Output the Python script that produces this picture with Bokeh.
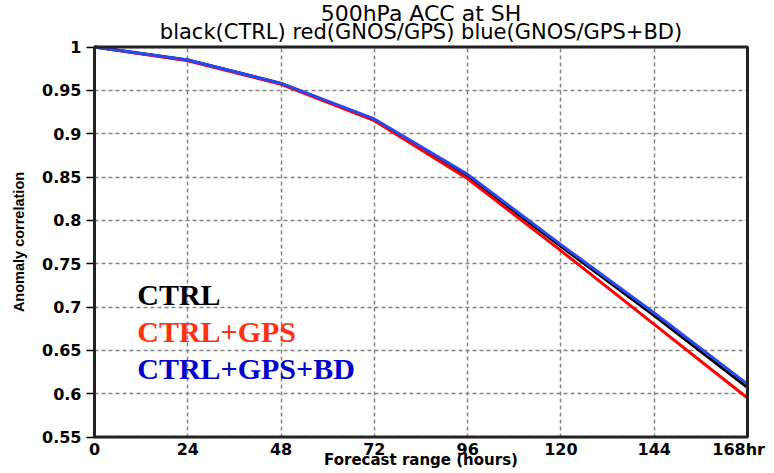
import math
from bokeh.plotting import figure
from bokeh.models import Label, FixedTicker, Range1d, BoxAnnotation
from bokeh.embed import file_html
from bokeh.resources import INLINE

# ---------------- data ----------------
hours = [0, 24, 48, 72, 96, 120, 144, 168]
ctrl = [1.0, 0.985, 0.958, 0.916, 0.851, 0.770, 0.690, 0.607]
gps = [1.0, 0.984, 0.957, 0.915, 0.848, 0.765, 0.680, 0.595]
gps_bd = [1.0, 0.985, 0.958, 0.917, 0.853, 0.772, 0.693, 0.611]

x_ticks = [0, 24, 48, 72, 96, 120, 144, 168]
x_tick_labels = ["0", "24", "48", "72", "96", "120", "144", "168hr\u00a0"]
y_ticks = [0.55, 0.6, 0.65, 0.7, 0.75, 0.8, 0.85, 0.9, 0.95, 1.0]
y_tick_labels = ["0.55", "0.6", "0.65", "0.7", "0.75", "0.8", "0.85", "0.9", "0.95", "1"]

title_text = "500hPa ACC at SH"
subtitle_text = "black(CTRL) red(GNOS/GPS) blue(GNOS/GPS+BD)"
x_label = "Forecast range (hours)"
y_label = "Anomaly correlation"

series_names = ["CTRL", "CTRL+GPS", "CTRL+GPS+BD"]
line_colors = ["#000000", "#ff0000", "#2a48f0"]
legend_colors = ["#000000", "#ff3311", "#0000cc"]

# ---------------- layout (pixels) ----------------
W, H = 770, 469
box_left, box_right = 94, 747      # pixel position of the plot box
box_top, box_bottom = 46.5, 436.5
x0, x1 = x_ticks[0], x_ticks[-1]
y0, y1 = y_ticks[0], y_ticks[-1]
ppx = (box_right - box_left) / (x1 - x0)
ppy = (box_bottom - box_top) / (y1 - y0)
x_lo = x0 - box_left / ppx
x_hi = x1 + (W - box_right) / ppx
y_hi = y1 + box_top / ppy
y_lo = y0 - (H - box_bottom) / ppy

p = figure(width=W, height=H, output_backend="svg", toolbar_location=None,
           x_range=Range1d(x_lo, x_hi), y_range=Range1d(y_lo, y_hi),
           min_border=0, title=None)
p.background_fill_color = "white"
p.border_fill_color = "white"
p.outline_line_color = None

# grid
for g in (p.xgrid, p.ygrid):
    g.grid_line_color = "#858585"
    g.grid_line_dash = "4 3"
    g.grid_line_width = 1.5
p.xgrid.ticker = FixedTicker(ticks=x_ticks)
p.ygrid.ticker = FixedTicker(ticks=y_ticks)
p.xgrid.cross_bounds = (y0, y1)
p.ygrid.cross_bounds = (x0, x1)

# axes pinned to the plot box
xa = p.xaxis[0]
xa.fixed_location = y0
xa.bounds = (x0, x1)
xa.ticker = FixedTicker(ticks=x_ticks)
xa.major_label_overrides = dict(zip(x_ticks, x_tick_labels))
xa.axis_line_color = None
xa.major_tick_out = 0
xa.major_tick_in = 0
xa.minor_tick_line_color = None
xa.major_label_text_font = "DejaVu Sans"
xa.major_label_text_font_style = "bold"
xa.major_label_text_font_size = "16px"
xa.major_label_text_color = "black"
xa.major_label_standoff = 3

ya = p.yaxis[0]
ya.fixed_location = x0
ya.bounds = (y0, y1)
ya.ticker = FixedTicker(ticks=y_ticks)
ya.major_label_overrides = dict(zip(y_ticks, y_tick_labels))
ya.axis_line_color = None
ya.major_tick_out = 8
ya.major_tick_in = 0
ya.major_tick_line_width = 1.5
ya.major_tick_line_color = "black"
ya.minor_tick_line_color = None
ya.major_label_text_font = "DejaVu Sans"
ya.major_label_text_font_style = "bold"
ya.major_label_text_font_size = "16px"
ya.major_label_text_color = "black"
ya.major_label_standoff = 5

# lines
for vals, col in zip([ctrl, gps, gps_bd], line_colors):
    p.line(hours, vals, line_color=col, line_width=3)

# plot box
p.add_layout(BoxAnnotation(left=x0, right=x1, bottom=y0, top=y1,
                           fill_alpha=0, line_color="#222222", line_alpha=1,
                           line_width=3))

def txt(text, x, y, size, font="DejaVu Sans", style="normal", color="black",
        dx=0, dy=0, align="center", baseline="alphabetic", angle=0):
    # alphabetic labels sit about 0.4em low in this renderer; compensate
    corr = 0.4 * size if baseline == "alphabetic" else 0
    p.add_layout(Label(x=x, y=y, x_offset=dx, y_offset=dy + corr, text=text,
                       text_font=font, text_font_style=style,
                       text_font_size=f"{size}px", text_color=color,
                       text_align=align, text_baseline=baseline, angle=angle))

xc = (x0 + x1) / 2
# titles (baselines at 22 px and 40 px from the top)
txt(subtitle_text, xc, y_hi, 21, dy=-40)
txt(title_text, xc, y_hi, 22, dy=-22)
# axis titles
txt(x_label, xc, y0, 15, style="bold", dy=-(465 - box_bottom))
txt(y_label, x0, (y0 + y1) / 2, 14.5, font="Liberation Sans", style="bold",
    dx=-76, baseline="middle", angle=math.pi / 2)

# in-plot legend texts
legend_x = 11
legend_y = [0.701, 0.658, 0.615]
for name, col, yy in zip(series_names, legend_colors, legend_y):
    txt(name, legend_x, yy, 30, font="Liberation Serif", style="bold",
        color=col, align="left")

open("out.html", "w").write(file_html(p, INLINE))
